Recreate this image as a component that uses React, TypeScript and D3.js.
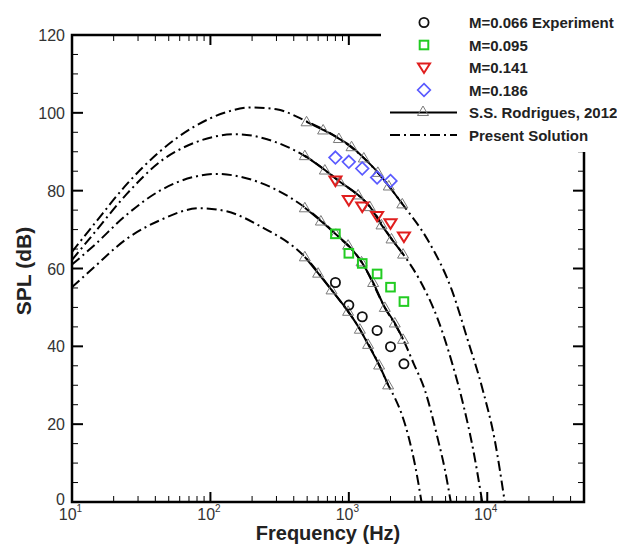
import React from 'react';
import * as d3 from 'd3';

const W = 617;
const H = 546;
const FONT = '"Liberation Sans", Arial, Helvetica, sans-serif';

// Experimental data (1/3-octave band centre frequencies)
const bandFreqs = [800, 1000, 1250, 1600, 2000, 2500];
const expM066 = [56.4, 50.6, 47.6, 44.1, 39.9, 35.5];
const expM095 = [68.9, 63.9, 61.3, 58.6, 55.2, 51.5];
const expM141 = [82.6, 77.6, 75.9, 73.5, 71.6, 68.2];
const expM186 = [88.5, 87.4, 85.7, 83.4, 82.5];

// S.S. Rodrigues, 2012 (frequency Hz, SPL dB)
const rod186 = [[495, 97.7], [652, 95.6], [847, 93.4], [1046, 91.3], [1283, 88.4], [1620, 84.7], [1944, 81.2], [2434, 76.6]];
const rod141 = [[481, 89.0], [671, 85.3], [861, 82.3], [1167, 78.9], [1418, 75.9], [1722, 71.2], [2034, 67.6], [2466, 63.7]];
const rod095 = [[481, 75.6], [628, 72.2], [806, 68.8], [988, 66.0], [1235, 61.7], [1498, 56.4], [1819, 50.0], [2148, 46.0], [2466, 41.8]];
const rod066 = [[481, 63.0], [600, 58.8], [750, 54.5], [988, 49.0], [1201, 44.4], [1378, 40.5], [1655, 35.2], [1922, 30.1]];

// Present Solution (frequency Hz, SPL dB)
const ps186 = [[10, 64.3], [14.3, 71.2], [24.8, 81.6], [43.2, 90.1], [75.2, 96.3], [131, 100.2], [198, 101.4], [300, 100.9], [495, 97.8], [847, 93.4], [1283, 88.4], [1944, 81.2], [2434, 76.6], [3719, 67.3], [5541, 54.5], [7231, 41.6], [9280, 28.8], [11330, 15.9], [13380, 0]];
const ps141 = [[10, 62.2], [14.3, 68.9], [24.8, 79.1], [43.2, 87.4], [75.2, 92.2], [155, 94.5], [300, 92.4], [481, 88.9], [861, 82.3], [1418, 75.9], [2034, 67.6], [2466, 63.7], [3255, 57.0], [4391, 47.0], [5541, 36.0], [6766, 24.5], [7859, 14.0], [9203, 0]];
const ps095 = [[10, 61.0], [14.3, 65.8], [24.8, 73.8], [43.2, 80.0], [75.2, 83.5], [111, 84.3], [173, 83.4], [300, 80.2], [481, 75.7], [806, 68.8], [1235, 61.7], [1819, 50.0], [2466, 41.8], [2946, 35.5], [3538, 28.8], [4414, 15.9], [4933, 8.5], [5451, 0]];
const ps066 = [[10, 55.2], [14.3, 60.2], [24.8, 67.6], [43.2, 72.4], [84, 75.5], [131, 74.7], [228, 70.9], [481, 63.0], [750, 54.5], [1201, 44.4], [1655, 35.2], [1922, 30.1], [2148, 26.8], [2414, 22.5], [2712, 16.5], [3046, 8.5], [3350, 0]];

const xMajorTicks = [10, 100, 1000, 10000];
const xTickExponents = ['1', '2', '3', '4'];
const yMajorTicks = [0, 20, 40, 60, 80, 100, 120];

const legendLabels = ['M=0.066 Experiment', 'M=0.095', 'M=0.141', 'M=0.186', 'S.S. Rodrigues, 2012', 'Present Solution'];

const GREEN = '#22cc22';
const RED = '#e01e1e';
const BLUE = '#5a5aff';
const GRAY = '#7a7a7a';
const DASHDOT = '10,4,2,4';

function Circle({ cx, cy }: { cx: number; cy: number }) {
  return <circle cx={cx} cy={cy} r={4.6} fill="none" stroke="#111" strokeWidth={1.8} />;
}
function Square({ cx, cy }: { cx: number; cy: number }) {
  return <rect x={cx - 4.3} y={cy - 4.3} width={8.6} height={8.6} fill="none" stroke={GREEN} strokeWidth={2} />;
}
function DownTri({ cx, cy }: { cx: number; cy: number }) {
  return <path d={`M${cx - 6},${cy - 4} L${cx + 6},${cy - 4} L${cx},${cy + 5.5} Z`} fill="none" stroke={RED} strokeWidth={2} />;
}
function Diamond({ cx, cy }: { cx: number; cy: number }) {
  return <path d={`M${cx},${cy - 6.3} L${cx + 6.3},${cy} L${cx},${cy + 6.3} L${cx - 6.3},${cy} Z`} fill="none" stroke={BLUE} strokeWidth={1.7} />;
}
function UpTri({ cx, cy }: { cx: number; cy: number }) {
  return <path d={`M${cx},${cy - 5.5} L${cx + 5.5},${cy + 4} L${cx - 5.5},${cy + 4} Z`} fill="none" stroke={GRAY} strokeWidth={1} />;
}

export default function App() {
  const x = d3.scaleLog().domain([10, 50000]).range([72, 584]);
  const y = d3.scaleLinear().domain([0, 120]).range([502, 35]);
  const line = d3
    .line<number[]>()
    .x((d) => x(d[0]))
    .y((d) => y(d[1]))
    .curve(d3.curveMonotoneX);

  const [x0, x1] = x.range();
  const [yb, yt] = y.range();

  const xMinor: number[] = [];
  for (let dec = 10; dec < 50000; dec *= 10) {
    for (let m = 2; m <= 9; m++) {
      const v = dec * m;
      if (v < 50000) xMinor.push(v);
    }
  }
  const yMinor: number[] = [];
  for (let v = 5; v < 120; v += 10) yMinor.push(v);
  for (let v = 10; v < 120; v += 20) yMinor.push(v);

  const psCurves = [ps186, ps141, ps095, ps066];
  const rodCurves = [rod186, rod141, rod095, rod066];

  const legX = 469;
  const legMarkX = 424;
  const legY = (i: number) => 22.5 + i * 22.5;

  return (
    <svg width={W} height={H} style={{ position: 'absolute', left: 0, top: 0, background: '#fff' }} fontFamily={FONT}>
      <rect x={0} y={0} width={W} height={H} fill="#fff" />

      {/* Present solution curves */}
      {psCurves.map((c, i) => (
        <path key={'ps' + i} d={line(c) || ''} fill="none" stroke="#000" strokeWidth={2} strokeDasharray={DASHDOT} />
      ))}
      {/* Rodrigues curves */}
      {rodCurves.map((c, i) => (
        <path key={'rl' + i} d={line(c) || ''} fill="none" stroke="#000" strokeWidth={2} />
      ))}
      {rodCurves.map((c, i) =>
        c.map((d, j) => <UpTri key={`rt${i}-${j}`} cx={x(d[0])} cy={y(d[1])} />)
      )}

      {/* Experiments */}
      {expM066.map((v, i) => <Circle key={'c' + i} cx={x(bandFreqs[i])} cy={y(v)} />)}
      {expM095.map((v, i) => <Square key={'s' + i} cx={x(bandFreqs[i])} cy={y(v)} />)}
      {expM141.map((v, i) => <DownTri key={'t' + i} cx={x(bandFreqs[i])} cy={y(v)} />)}
      {expM186.map((v, i) => <Diamond key={'d' + i} cx={x(bandFreqs[i])} cy={y(v)} />)}

      {/* Ticks */}
      {xMajorTicks.map((v) => (
        <g key={'xm' + v}>
          <line x1={x(v)} x2={x(v)} y1={yb} y2={yb - 10} stroke="#000" strokeWidth={2} />
          <line x1={x(v)} x2={x(v)} y1={yt} y2={yt + 10} stroke="#000" strokeWidth={2} />
        </g>
      ))}
      {xMinor.map((v) => (
        <g key={'xn' + v}>
          <line x1={x(v)} x2={x(v)} y1={yb} y2={yb - 6} stroke="#000" strokeWidth={1} />
          <line x1={x(v)} x2={x(v)} y1={yt} y2={yt + 6} stroke="#000" strokeWidth={1} />
        </g>
      ))}
      {yMajorTicks.map((v) => (
        <g key={'ym' + v}>
          <line x1={x0} x2={x0 + 11} y1={y(v)} y2={y(v)} stroke="#000" strokeWidth={2} />
          <line x1={x1} x2={x1 - 11} y1={y(v)} y2={y(v)} stroke="#000" strokeWidth={2} />
        </g>
      ))}
      {yMinor.map((v) => (
        <g key={'yn' + v}>
          <line x1={x0} x2={x0 + 6} y1={y(v)} y2={y(v)} stroke="#000" strokeWidth={1} />
          <line x1={x1} x2={x1 - 6} y1={y(v)} y2={y(v)} stroke="#000" strokeWidth={1} />
        </g>
      ))}

      {/* Frame */}
      <rect x={x0} y={yt} width={x1 - x0} height={yb - yt} fill="none" stroke="#000" strokeWidth={2.5} />

      {/* Tick labels */}
      {yMajorTicks.map((v) => (
        <text key={'yl' + v} x={65} y={y(v) + (v === 0 ? 3 : 6)} textAnchor="end" fontSize={16} fill="#333">
          {v}
        </text>
      ))}
      {xMajorTicks.map((v, i) => (
        <text key={'xl' + v} x={x(v) - 1.5} y={520} textAnchor="middle" fontSize={16} fill="#333">
          10
          <tspan dy={-8} fontSize={10}>
            {xTickExponents[i]}
          </tspan>
        </text>
      ))}

      {/* Axis titles */}
      <text x={(x0 + x1) / 2} y={540} textAnchor="middle" fontSize={20} fontWeight="bold" fill="#222">
        Frequency (Hz)
      </text>
      <text transform={`translate(31,271) rotate(-90)`} textAnchor="middle" fontSize={21} fontWeight="bold" fill="#222">
        SPL (dB)
      </text>

      {/* Legend */}
      <rect x={381} y={0} width={W - 381} height={152} fill="#fff" />
      <Circle cx={legMarkX} cy={legY(0)} />
      <Square cx={legMarkX} cy={legY(1)} />
      <DownTri cx={legMarkX} cy={legY(2)} />
      <Diamond cx={legMarkX} cy={legY(3)} />
      <line x1={390} x2={457} y1={legY(4)} y2={legY(4)} stroke="#000" strokeWidth={2} />
      <UpTri cx={legMarkX - 1} cy={legY(4) - 1} />
      <line x1={390} x2={457} y1={legY(5)} y2={legY(5)} stroke="#000" strokeWidth={2} strokeDasharray={DASHDOT} />
      {legendLabels.map((t, i) => (
        <text key={'lg' + i} x={legX} y={legY(i) + 5.5} fontSize={15} fontWeight="bold" fill="#222">
          {t}
        </text>
      ))}
    </svg>
  );
}
